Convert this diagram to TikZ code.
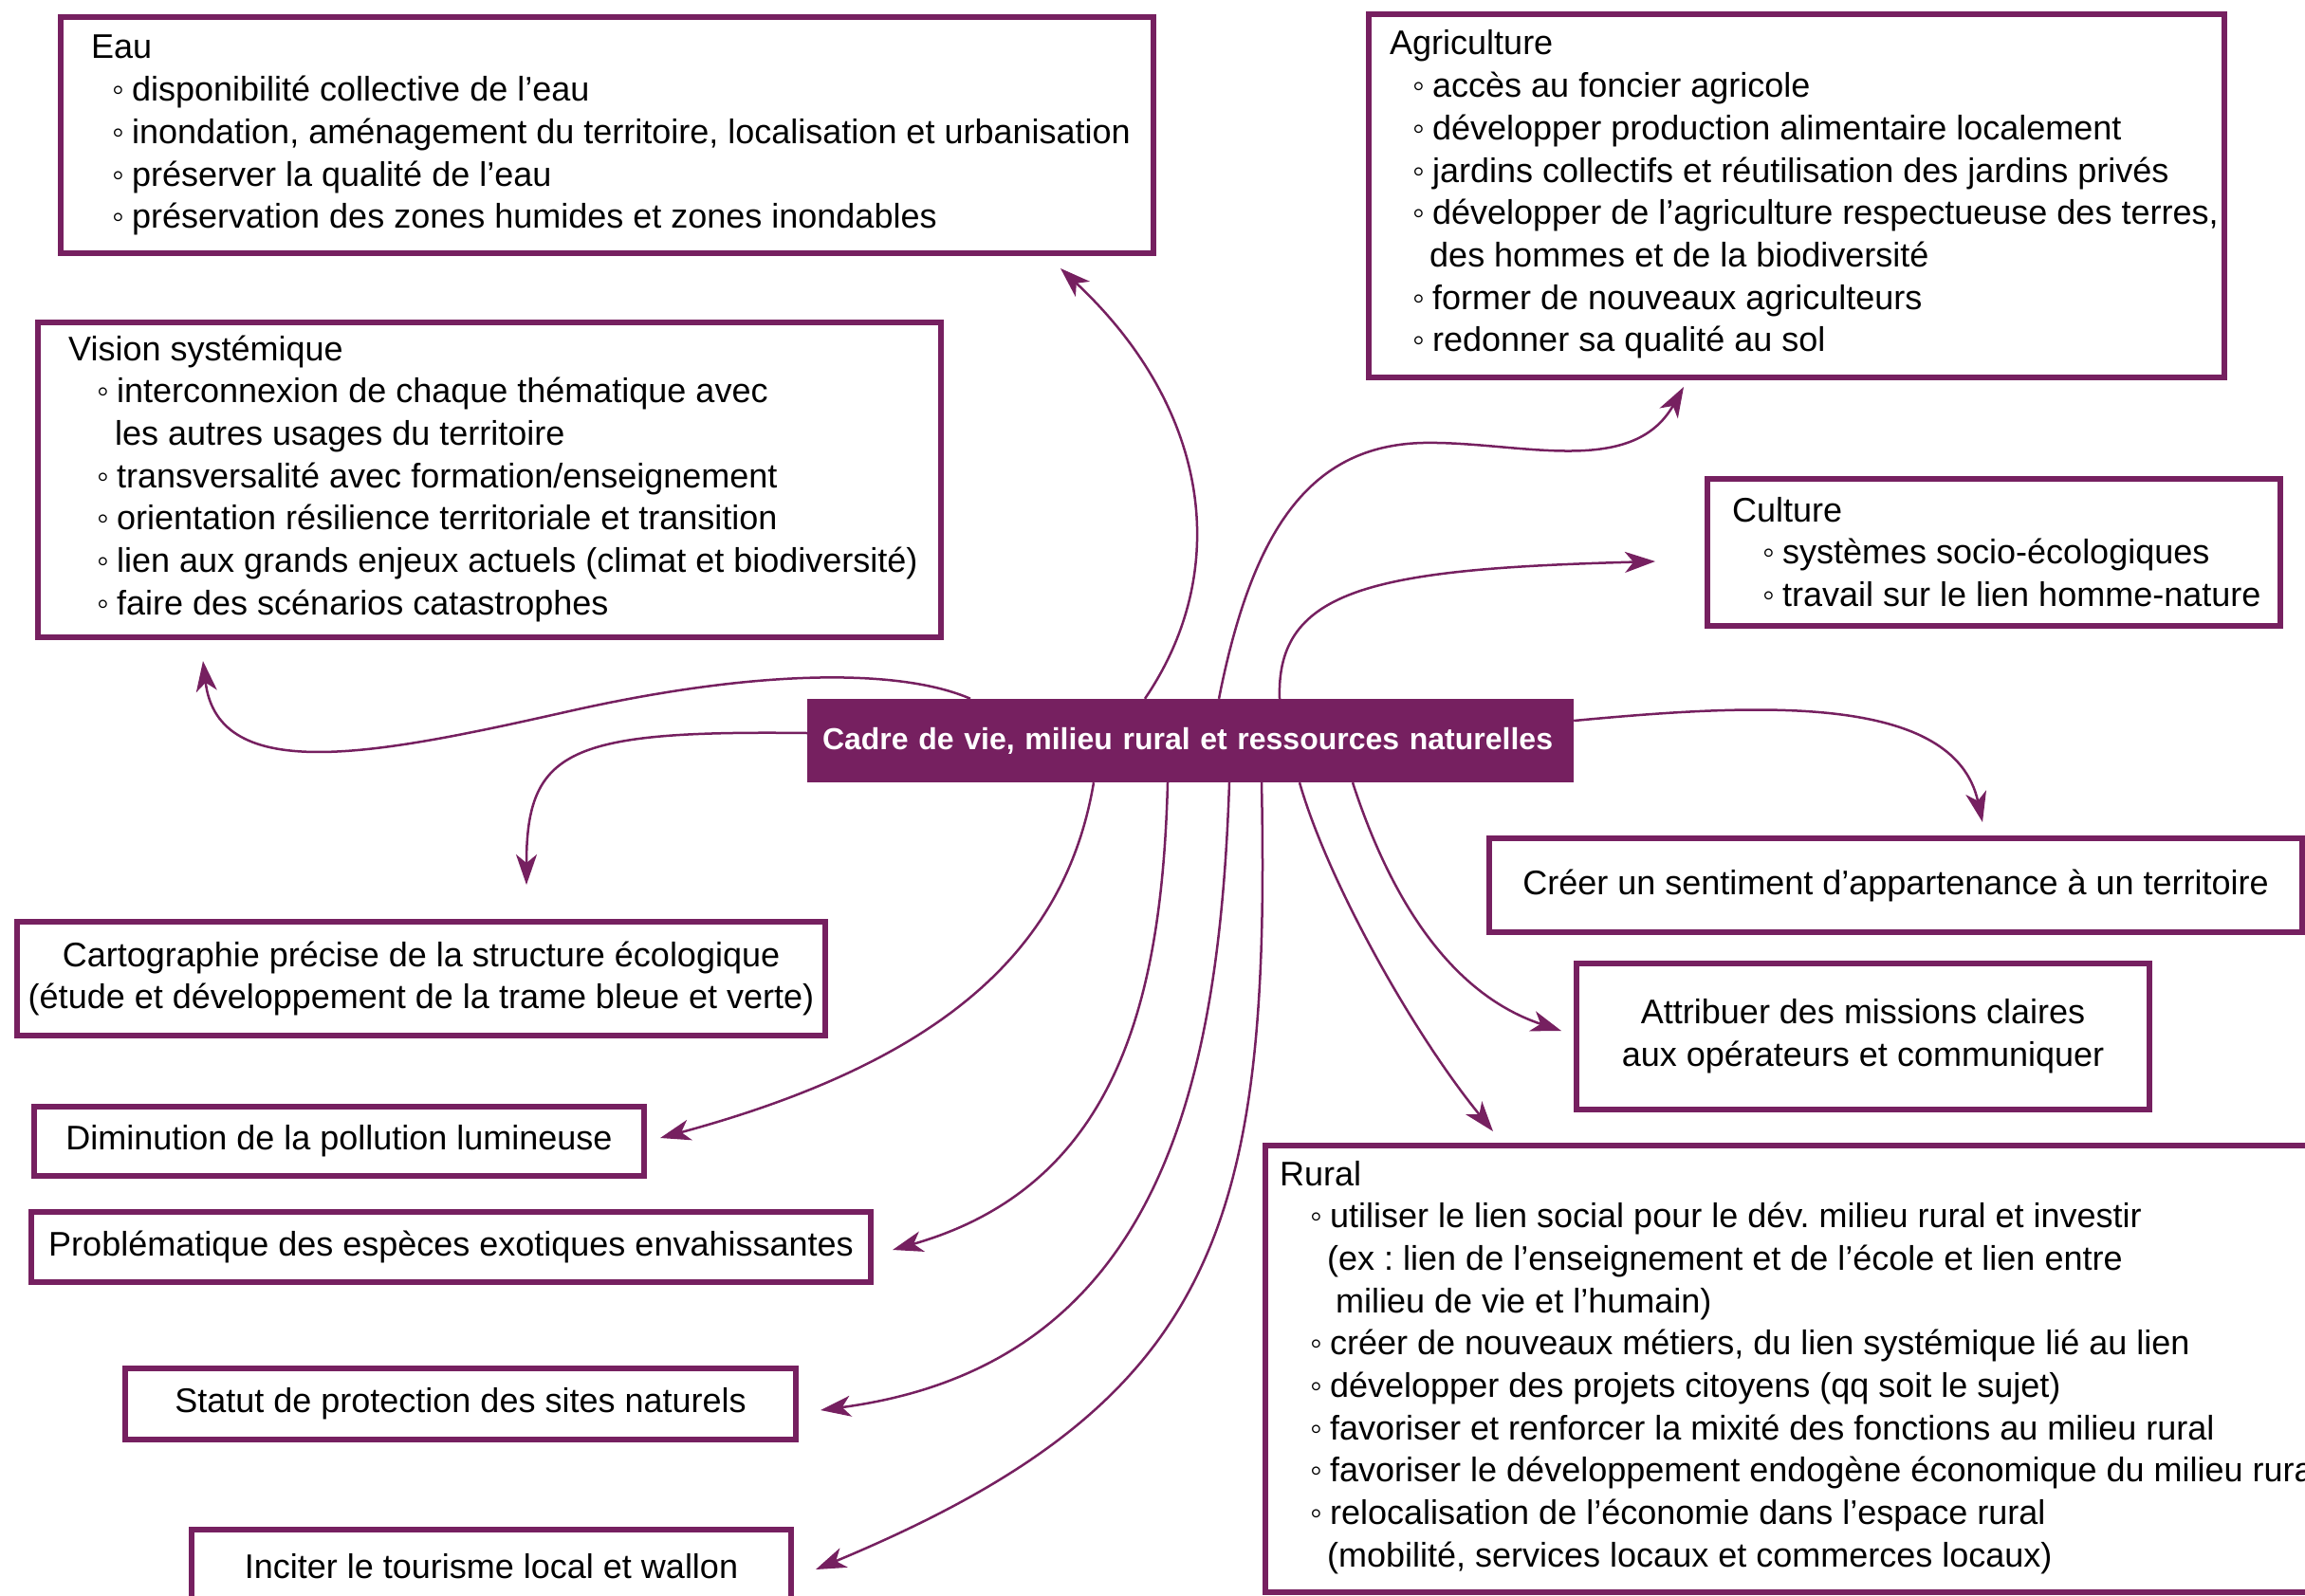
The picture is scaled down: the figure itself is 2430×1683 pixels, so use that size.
\documentclass[tikz,border=0pt]{standalone}
\usepackage{fontspec}
\setmainfont{Liberation Sans}
\usetikzlibrary{arrows.meta,calc}
\definecolor{pur}{RGB}{118,32,96}
\newcommand\itm[1]{\hspace*{#1}\makebox[21pt][l]{◦}}
\frenchspacing
\tikzset{
  box/.style={draw=pur, line width=6.5pt, rectangle, inner sep=0pt},
  lst/.style={anchor=base west, inner sep=0pt, font=\fontsize{36}{44.7}\selectfont},
  ctr/.style={box, font=\fontsize{36}{44.7}\selectfont, align=center},
  hub/.style={fill=pur, rectangle, inner ysep=0pt, inner xsep=16pt, text width=776pt, align=left, text=white, font=\bfseries\fontsize{32}{38}\selectfont},
  con/.style={draw=pur, line width=2.5pt, -{Stealth[length=32pt,width=22pt,inset=9pt]}},
}
\begin{document}
\begin{tikzpicture}[x=1pt,y=-1pt]
\useasboundingbox[fill=white] (0,0) rectangle (2430,1683);

% central node
\node[hub, minimum width=808, minimum height=88] (c) at (1255,781) {Cadre de vie, milieu rural et ressources naturelles};

% list boxes
\node[box, minimum width=1152, minimum height=249] (eau) at (640,142.5) {};
\node[lst] (eauT) at (96,62) {\parbox[t]{1300pt}{\raggedright Eau\\
\itm{22pt}disponibilité collective de l’eau\\
\itm{22pt}inondation, aménagement du territoire, localisation et urbanisation\\
\itm{22pt}préserver la qualité de l’eau\\
\itm{22pt}préservation des zones humides et zones inondables}};

\node[box, minimum width=952, minimum height=332] (vis) at (516,506) {};
\node[lst] (visT) at (72,380) {\parbox[t]{1300pt}{\raggedright Vision systémique\\
\itm{30pt}interconnexion de chaque thématique avec\\
\hspace*{49pt}les autres usages du territoire\\
\itm{30pt}transversalité avec formation/enseignement\\
\itm{30pt}orientation résilience territoriale et transition\\
\itm{30pt}lien aux grands enjeux actuels (climat et biodiversité)\\
\itm{30pt}faire des scénarios catastrophes}};

\node[box, minimum width=902, minimum height=383] (agr) at (1894,206.5) {};
\node[lst] (agrT) at (1465,58) {\parbox[t]{1300pt}{\raggedright Agriculture\\
\itm{24pt}accès au foncier agricole\\
\itm{24pt}développer production alimentaire localement\\
\itm{24pt}jardins collectifs et réutilisation des jardins privés\\
\itm{24pt}développer de l’agriculture respectueuse des terres,\\
\hspace*{42pt}des hommes et de la biodiversité\\
\itm{24pt}former de nouveaux agriculteurs\\
\itm{24pt}redonner sa qualité au sol}};

\node[box, minimum width=604, minimum height=155] (cul) at (2102,582.5) {};
\node[lst] (culT) at (1826,550) {\parbox[t]{1300pt}{\raggedright Culture\\
\itm{32pt}systèmes socio-écologiques\\
\itm{32pt}travail sur le lien homme-nature}};

\node[box, minimum width=1121, minimum height=471] (rur) at (1894.5,1443.5) {};
\node[lst] (rurT) at (1349,1250) {\parbox[t]{1300pt}{\raggedright Rural\\
\itm{32pt}utiliser le lien social pour le dév. milieu rural et investir\\
\hspace*{50pt}(ex : lien de l’enseignement et de l’école et lien entre\\
\hspace*{59pt}milieu de vie et l’humain)\\
\itm{32pt}créer de nouveaux métiers, du lien systémique lié au lien\\
\itm{32pt}développer des projets citoyens (qq soit le sujet)\\
\itm{32pt}favoriser et renforcer la mixité des fonctions au milieu rural\\
\itm{32pt}favoriser le développement endogène économique du milieu rural\\
\itm{32pt}relocalisation de l’économie dans l’espace rural\\
\hspace*{50pt}(mobilité, services locaux et commerces locaux)}};

% centred boxes
\node[ctr, minimum width=857, minimum height=99] (cre) at (1998.5,933.5) {Créer un sentiment d’appartenance à un territoire};
\node[ctr, minimum width=604, minimum height=154] (att) at (1964,1093) {Attribuer des missions claires\\aux opérateurs et communiquer};
\node[ctr, minimum width=852, minimum height=120] (car) at (444,1032) {Cartographie précise de la structure écologique\\(étude et développement de la trame bleue et verte)};
\node[ctr, minimum width=643, minimum height=73] (dim) at (357.5,1203.5) {Diminution de la pollution lumineuse};
\node[ctr, minimum width=885, minimum height=74] (pro) at (475.5,1315) {Problématique des espèces exotiques envahissantes};
\node[ctr, minimum width=707, minimum height=75] (sta) at (485.5,1480.5) {Statut de protection des sites naturels};
\node[ctr, minimum width=632, minimum height=77] (inc) at (518,1651.5) {Inciter le tourisme local et wallon};

% arrow tips (free ends)
\coordinate (tEau) at (1118,283);
\coordinate (tAgr) at (1775,408);
\coordinate (tCul) at (1745,592);
\coordinate (tVis) at (214,697);
\coordinate (tCar) at (555,933);
\coordinate (tCre) at (2090,867);
\coordinate (tAtt) at (1646,1087);
\coordinate (tRur) at (1574,1193);
\coordinate (tInc) at (860,1655);
\coordinate (tSta) at (865,1487);
\coordinate (tPro) at (941,1318);
\coordinate (tDim) at (696,1200);

% connectors
\draw[con] ($(c.north)+(-48,0)$) .. controls (1300,600) and (1275,430) .. (tEau);
\draw[con] ($(c.north)+(30,0)$) .. controls (1320,560) and (1380,470) .. (1500,467) .. controls (1600,465) and (1720,505) .. (tAgr);
\draw[con] ($(c.north)+(94,0)$) .. controls (1345,620) and (1450,600) .. (tCul);
\draw[con] ($(c.north)+(-232,0)$) .. controls (950,705) and (800,705) .. (600,750) .. controls (400,795) and (230,830) .. (tVis);
\draw[con] ($(c.west)+(0,-8)$) .. controls (600,770) and (555,790) .. (tCar);
\draw[con] ($(c.east)+(0,-21)$) .. controls (1850,742) and (2060,730) .. (tCre);
\draw[con] ($(c.south)+(171,0)$) .. controls (1460,930) and (1520,1045) .. (tAtt);
\draw[con] ($(c.south)+(115,0)$) .. controls (1400,930) and (1490,1090) .. (tRur);
\draw[con] ($(c.south)+(75,0)$) .. controls (1340,1300) and (1280,1480) .. (tInc);
\draw[con] ($(c.south)+(41,0)$) .. controls (1285,1150) and (1220,1440) .. (tSta);
\draw[con] ($(c.south)+(-24,0)$) .. controls (1225,1050) and (1180,1250) .. (tPro);
\draw[con] ($(c.south)+(-102,0)$) .. controls (1125,990) and (1010,1115) .. (tDim);
\end{tikzpicture}
\end{document}
